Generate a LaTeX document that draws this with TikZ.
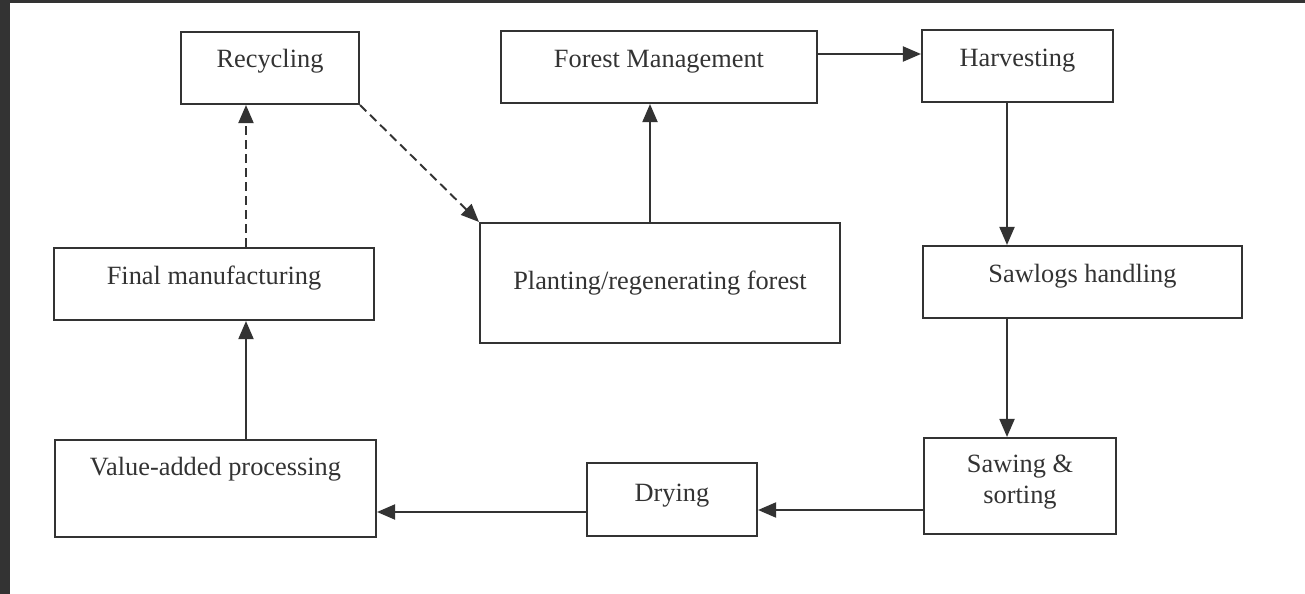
\documentclass[tikz,border=0pt]{standalone}
\usepackage{fontspec}
\setmainfont{Liberation Serif}
\usetikzlibrary{arrows.meta}
\definecolor{ink}{HTML}{333333}
\begin{document}
\begin{tikzpicture}[x=0.02cm, y=-0.02cm,
  box/.style={draw=ink, line width=1.2pt, inner sep=0pt, anchor=base, text=ink,
    align=center, font=\fontsize{15}{17.5}\selectfont},
  flow/.style={draw=ink, line width=1.1pt, -{Triangle[length=0.36cm, width=0.30cm]}},
  back/.style={flow, dash pattern=on 5pt off 3pt}]
  \useasboundingbox (0,0) rectangle (1305,594);
  %–– Sfondo ––
  \fill[black!80] (0,0) rectangle (1305,594);
  \fill[white] (10,3) rectangle (1305,594);

  %–– Riquadri ––
  \node[box, minimum width=3.56cm, text height=0.72cm, text depth=0.72cm] (rec) at (270,68) {Recycling};
  \node[box, minimum width=6.32cm, text height=0.74cm, text depth=0.70cm] (fm) at (659,68) {Forest Management};
  \node[box, minimum width=3.82cm, text height=0.74cm, text depth=0.70cm] (harv) at (1017.5,67) {Harvesting};
  \node[box, minimum width=6.40cm, text height=0.74cm, text depth=0.70cm] (fin) at (214,285) {Final manufacturing};
  \node[box, minimum width=7.20cm, text height=1.34cm, text depth=1.06cm] (plant) at (660,290) {Planting/regenerating forest};
  \node[box, minimum width=6.38cm, text height=0.74cm, text depth=0.70cm] (logs) at (1082.5,283) {Sawlogs handling};
  \node[box, minimum width=6.42cm, text height=0.72cm, text depth=1.22cm] (val) at (215.5,476) {Value-added processing};
  \node[box, minimum width=3.40cm, text height=0.76cm, text depth=0.70cm] (dry) at (672,501) {Drying};
  \node[box, minimum width=3.84cm, text height=1.30cm, text depth=0.62cm] (saw) at (1020,503) {Sawing \&\\sorting};

  %–– Frecce ––
  \draw[flow] ([yshift=0.26cm]fm.east) -- ([yshift=0.26cm]fm.east -| harv.west);
  \draw[flow] ([xshift=-0.21cm]harv.south) -- ([xshift=-0.21cm]harv.south |- logs.north);
  \draw[flow] ([xshift=-1.51cm]logs.south) -- ([xshift=-1.51cm]logs.south |- saw.north);
  \draw[flow] ([yshift=-0.48cm]saw.west) -- ([yshift=-0.48cm]saw.west -| dry.east);
  \draw[flow] ([yshift=-0.25cm]dry.west) -- ([yshift=-0.25cm]dry.west -| val.east);
  \draw[flow] ([xshift=0.61cm]val.north) -- ([xshift=0.61cm]val.north |- fin.south);
  \draw[flow] ([xshift=-0.20cm]plant.north) -- ([xshift=-0.20cm]plant.north |- fm.south);

  %–– Ritorno (tratteggiato) ––
  \draw[back] ([xshift=0.64cm]fin.north) -- ([xshift=0.64cm]fin.north |- rec.south);
  \draw[back] (rec.south east) -- (plant.north west);
\end{tikzpicture}
\end{document}
